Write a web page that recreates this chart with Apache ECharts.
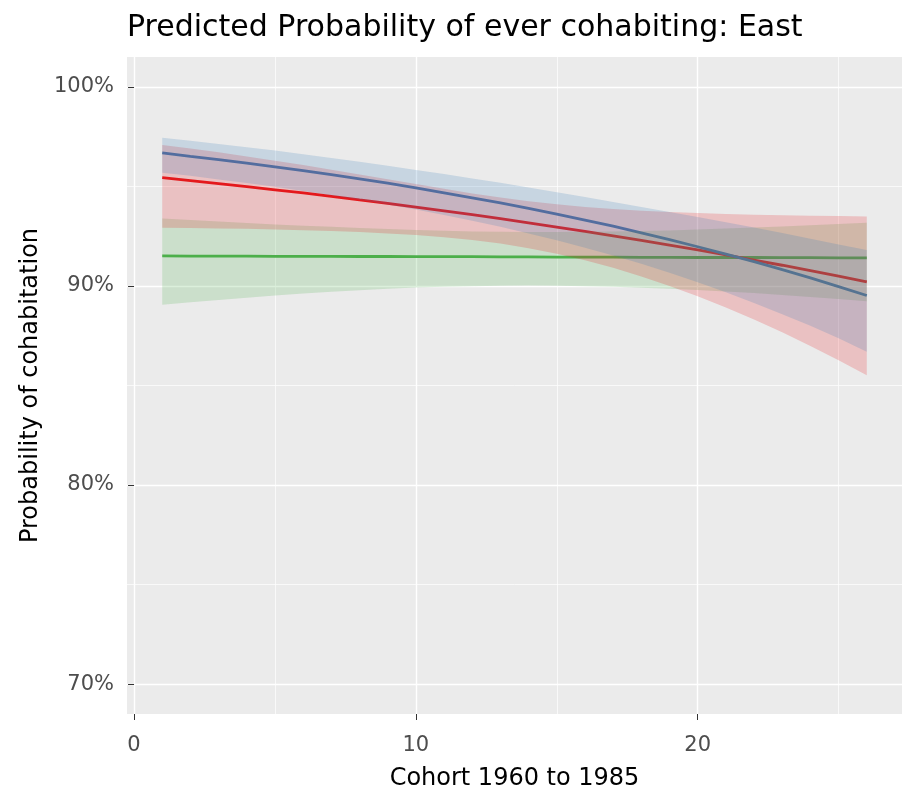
<!DOCTYPE html>
<html lang="en">
  <head>
    <meta charset="utf-8">
    <title>Predicted Probability of ever cohabiting: East</title>
    <script src="https://cdn.jsdelivr.net/npm/echarts@6/dist/echarts.min.js"></script>
    <style>
      html, body { margin: 0; padding: 0; background: #fff; }
      #chart { width: 902px; height: 796px; }
    </style>
  </head>
<body>
<div id="chart"></div>
<script type="text/javascript">

// cohort index 1..26 (1960 to 1985)
var cohort = [1, 2, 3, 4, 5, 6, 7, 8, 9, 10, 11, 12, 13, 14, 15, 16, 17, 18, 19, 20, 21, 22, 23, 24, 25, 26];

// predicted probability (%) and 95% band
var blueFit  = [96.68, 96.51, 96.35, 96.17, 95.98, 95.79, 95.59, 95.38, 95.16, 94.93, 94.68, 94.43, 94.17, 93.90, 93.61, 93.31, 93.00, 92.67, 92.33, 91.97, 91.60, 91.22, 90.82, 90.41, 89.97, 89.52];
var blueHigh = [97.44, 97.29, 97.13, 96.97, 96.80, 96.62, 96.43, 96.24, 96.04, 95.83, 95.62, 95.40, 95.18, 94.94, 94.71, 94.47, 94.22, 93.97, 93.72, 93.46, 93.20, 92.93, 92.66, 92.37, 92.08, 91.80];
var blueLow  = [95.69, 95.53, 95.35, 95.17, 94.98, 94.77, 94.56, 94.33, 94.09, 93.84, 93.57, 93.28, 92.97, 92.64, 92.30, 91.92, 91.53, 91.11, 90.66, 90.19, 89.68, 89.15, 88.58, 88.00, 87.37, 86.70];

var redFit  = [95.44, 95.29, 95.14, 94.99, 94.83, 94.67, 94.50, 94.32, 94.15, 93.96, 93.77, 93.58, 93.38, 93.17, 92.96, 92.74, 92.52, 92.29, 92.05, 91.81, 91.56, 91.30, 91.04, 90.77, 90.49, 90.20];
var redHigh = [97.08, 96.90, 96.71, 96.50, 96.29, 96.07, 95.84, 95.60, 95.36, 95.12, 94.88, 94.65, 94.44, 94.26, 94.10, 93.97, 93.86, 93.78, 93.71, 93.66, 93.62, 93.58, 93.55, 93.53, 93.51, 93.49];
var redLow  = [92.92, 92.91, 92.89, 92.87, 92.84, 92.80, 92.76, 92.71, 92.64, 92.56, 92.45, 92.31, 92.13, 91.90, 91.62, 91.29, 90.91, 90.48, 90.00, 89.48, 88.92, 88.32, 87.67, 86.99, 86.27, 85.51];

var greenFit  = [91.51, 91.50, 91.50, 91.50, 91.49, 91.49, 91.49, 91.48, 91.48, 91.47, 91.47, 91.47, 91.46, 91.46, 91.45, 91.45, 91.45, 91.44, 91.44, 91.43, 91.43, 91.43, 91.42, 91.42, 91.41, 91.41];
var greenHigh = [93.39, 93.31, 93.24, 93.16, 93.09, 93.03, 92.97, 92.91, 92.86, 92.81, 92.77, 92.74, 92.72, 92.71, 92.71, 92.72, 92.73, 92.76, 92.79, 92.83, 92.88, 92.93, 92.99, 93.05, 93.11, 93.18];
var greenLow  = [89.05, 89.18, 89.30, 89.41, 89.52, 89.62, 89.71, 89.79, 89.86, 89.92, 89.96, 89.99, 90.01, 90.02, 90.01, 89.99, 89.96, 89.91, 89.86, 89.80, 89.72, 89.64, 89.55, 89.45, 89.35, 89.23];

// axis breaks
var xMajor = [0, 10, 20];
var xMinor = [5, 15, 25];
var yMajor = [70, 80, 90, 100];
var yMinor = [75, 85, 95];

var FONT = 'DejaVu Sans';
var RED = '#E41A1C', BLUE = '#377EB8', GREEN = '#4DAF4A';

function pairs(vals) {
    return cohort.map(function (x, i) { return [x, vals[i]]; });
}

function lineSerie(name, vals, color) {
    return {
        name: name,
        type: 'line',
        data: pairs(vals),
        symbol: 'none',
        lineStyle: { color: color, width: 2.8 },
        emphasis: { disabled: true },
        z: 2
    };
}

// ribbon polygon: upper edge left->right, lower edge right->left, via the axis scales
function ribbon(name, low, high, color) {
    return {
        name: name,
        type: 'custom',
        coordinateSystem: 'cartesian2d',
        data: [[cohort[0], low[0]]],
        clip: true,
        z: 3,
        renderItem: function (params, api) {
            var pts = [];
            cohort.forEach(function (x, i) { pts.push(api.coord([x, high[i]])); });
            for (var i = cohort.length - 1; i >= 0; i--) {
                pts.push(api.coord([cohort[i], low[i]]));
            }
            return {
                type: 'polygon',
                shape: { points: pts },
                style: { fill: color, opacity: 0.2 }
            };
        }
    };
}

var series = [
    lineSerie('green', greenFit, GREEN),
    lineSerie('red', redFit, RED),
    lineSerie('blue', blueFit, BLUE),
    ribbon('gband', greenLow, greenHigh, GREEN),
    ribbon('rband', redLow, redHigh, RED),
    ribbon('bband', blueLow, blueHigh, BLUE)
];

var myChart = echarts.init(document.getElementById('chart'), null, { renderer: 'canvas' });

myChart.setOption({
    animation: false,
    backgroundColor: '#ffffff',
    title: {
        text: 'Predicted Probability of ever cohabiting: East',
        left: 127,
        top: 13,
        padding: 0,
        textStyle: { fontFamily: FONT, fontSize: 30, fontWeight: 'normal', color: '#000000' }
    },
    grid: {
        left: 127,
        top: 57,
        width: 783,
        height: 665,
        show: true,
        backgroundColor: '#EBEBEB',
        borderWidth: 0
    },
    xAxis: [{
        type: 'value',
        min: -0.25,
        max: 27.25,
        position: 'bottom',
        name: 'Cohort 1960 to 1985',
        nameLocation: 'middle',
        nameGap: 53,
        nameTextStyle: { fontFamily: FONT, fontSize: 24, color: '#000000' },
        axisLine: { show: false },
        axisTick: { show: true, customValues: xMajor, length: 6, lineStyle: { color: '#333333', width: 1 } },
        axisLabel: { customValues: xMajor, margin: 21, fontFamily: FONT, fontSize: 21, color: '#4D4D4D' },
        splitLine: { show: true, lineStyle: { color: '#ffffff', width: 1.4 } }
    }, {
        type: 'value',
        min: -0.25,
        max: 27.25,
        position: 'top',
        axisLine: { show: false },
        axisTick: { show: false, customValues: xMinor },
        axisLabel: { show: false, customValues: xMinor },
        splitLine: { show: true, lineStyle: { color: '#ffffff', width: 0.7 } }
    }],
    yAxis: [{
        type: 'value',
        min: 68.5,
        max: 101.5,
        position: 'left',
        name: 'Probability of cohabitation',
        nameLocation: 'middle',
        nameRotate: 90,
        nameGap: 84,
        nameTextStyle: { fontFamily: FONT, fontSize: 24, color: '#000000' },
        axisLine: { show: false },
        axisTick: { show: true, customValues: yMajor, length: 6, lineStyle: { color: '#333333', width: 1 } },
        axisLabel: { customValues: yMajor, margin: 13, formatter: '{value}%', fontFamily: FONT, fontSize: 21, color: '#4D4D4D' },
        splitLine: { show: true, lineStyle: { color: '#ffffff', width: 1.4 } }
    }, {
        type: 'value',
        min: 68.5,
        max: 101.5,
        position: 'right',
        axisLine: { show: false },
        axisTick: { show: false, customValues: yMinor },
        axisLabel: { show: false, customValues: yMinor },
        splitLine: { show: true, lineStyle: { color: '#ffffff', width: 0.7 } }
    }],
    series: series
});

</script>
</body>
</html>
